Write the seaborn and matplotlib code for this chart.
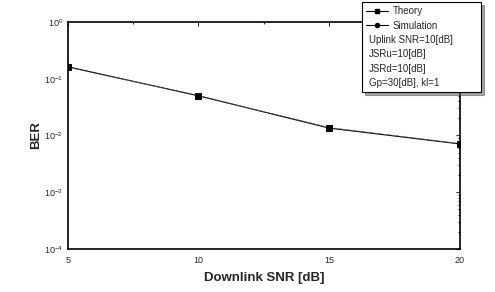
import matplotlib
matplotlib.use("Agg")
import matplotlib.pyplot as plt
import seaborn as sns
import pandas as pd
from matplotlib.lines import Line2D
from matplotlib.ticker import MultipleLocator, LogLocator, NullFormatter

snr = [5, 10, 15, 20]
ber_theory = [0.162, 0.050, 0.0135, 0.0071]
ber_sim = [0.160, 0.050, 0.0138, 0.0072]
notes = ["Uplink SNR=10[dB]", "JSRu=10[dB]", "JSRd=10[dB]", "Gp=30[dB], kl=1"]

sns.set_style("white")
plt.rcParams['font.family'] = ['Liberation Sans', 'DejaVu Sans']

df = pd.DataFrame({"snr": snr * 2,
                   "ber": ber_theory + ber_sim,
                   "kind": ["Theory"] * 4 + ["Simulation"] * 4})

fig = plt.figure(figsize=(4.95, 2.92), dpi=100)
ax = fig.add_axes([0.137, 0.147, 0.792, 0.778])

sns.lineplot(data=df[df.kind == "Theory"], x="snr", y="ber", ax=ax,
             color="black", marker="s", markersize=4, linewidth=0.8,
             markeredgecolor="black")
sns.lineplot(data=df[df.kind == "Simulation"], x="snr", y="ber", ax=ax,
             color="#555555", marker="o", markersize=4, linewidth=0.6,
             linestyle="--", markeredgecolor="black", markerfacecolor="black")

ax.set_yscale("log")
ax.set_xlim(5, 20)
ax.set_ylim(1e-4, 1)
ax.set_xticks([5, 10, 15, 20])
ax.xaxis.set_minor_locator(MultipleLocator(2.5))
ax.yaxis.set_minor_locator(LogLocator(base=10, subs=range(2, 10)))
ax.yaxis.set_minor_formatter(NullFormatter())
ax.tick_params(which="both", direction="in", top=True, right=True,
               labelsize=6.5, width=0.8)
ax.tick_params(which="major", length=3)
ax.tick_params(which="minor", length=1.5)
ax.tick_params(axis="x", pad=5)
for s in ax.spines.values():
    s.set_linewidth(1.2)
    s.set_color("black")

ax.set_xlabel("Downlink SNR [dB]", fontsize=9.5, fontweight="bold", labelpad=5)
ax.set_ylabel("BER", fontsize=9.5, fontweight="bold", labelpad=1)

handles = [Line2D([], [], color="black", marker="s", markersize=3, lw=0.8),
           Line2D([], [], color="black", marker="o", markersize=3, lw=0.8)]
labels = ["Theory", "Simulation"]
for n in notes:
    handles.append(Line2D([], [], color="none"))
    labels.append(n)
leg = ax.legend(handles, labels, loc="upper right", bbox_to_anchor=(1.066, 1.11),
                fontsize=7, frameon=True, fancybox=False, shadow=True,
                handlelength=2.2, handletextpad=0.5, borderpad=0.45,
                labelspacing=0.45, edgecolor="black", framealpha=1)
leg.get_frame().set_linewidth(0.8)
for i, t in enumerate(leg.get_texts()):
    if i >= 2:
        t.set_position((-24, 0))

fig.savefig("out.png", dpi=100)
